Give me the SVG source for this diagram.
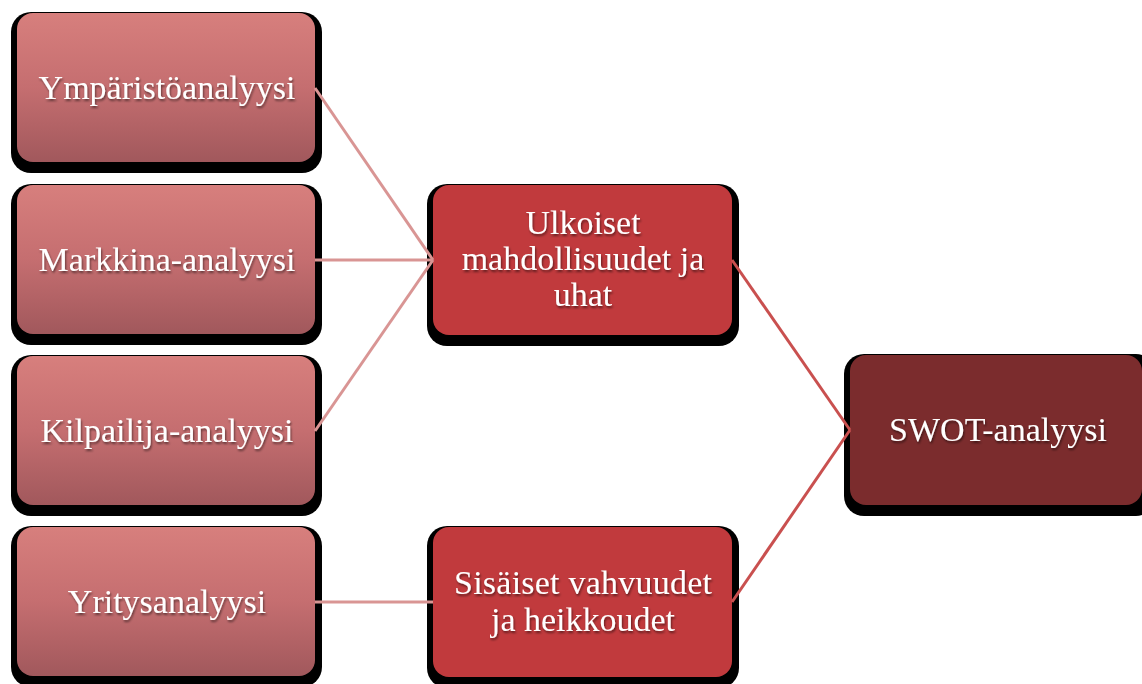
<svg xmlns="http://www.w3.org/2000/svg" width="1142" height="684" viewBox="0 0 1142 684">
<defs>
<linearGradient id="gL" x1="0" y1="0" x2="0" y2="1">
<stop offset="0" stop-color="#d77f7d"/>
<stop offset="0.5" stop-color="#c56e70"/>
<stop offset="1" stop-color="#a1585c"/>
</linearGradient>
<filter id="ts" x="-10%" y="-30%" width="120%" height="160%">
<feDropShadow dx="1" dy="2" stdDeviation="1.2" flood-color="#000" flood-opacity="0.5"/>
</filter>
</defs>
<style>
.sh{fill:#000}
.l{fill:url(#gL)}
.m{fill:#c13a3d}
.s{fill:#7b2c2d}
text{font-family:"Liberation Serif","Times New Roman",serif;font-size:34px;fill:#fff;text-anchor:middle;filter:url(#ts)}
.c1{stroke:#d99594;stroke-width:3;fill:none}
.c2{stroke:#c9504f;stroke-width:3;fill:none}
</style>
<rect width="1142" height="684" fill="#fff"/>
<g id="n1">
<rect class="sh" x="11" y="12" width="311" height="161" rx="20"/>
<rect class="l" x="17" y="13" width="298" height="149" rx="16"/>
<text x="167" y="99">Ympäristöanalyysi</text>
</g>
<g id="n2">
<rect class="sh" x="11" y="184" width="311" height="161" rx="20"/>
<rect class="l" x="17" y="185" width="298" height="149" rx="16"/>
<text x="167" y="271">Markkina-analyysi</text>
</g>
<g id="n3">
<rect class="sh" x="11" y="355" width="311" height="161" rx="20"/>
<rect class="l" x="17" y="356" width="298" height="149" rx="16"/>
<text x="167" y="442">Kilpailija-analyysi</text>
</g>
<g id="n4">
<rect class="sh" x="11" y="526" width="311" height="161" rx="20"/>
<rect class="l" x="17" y="527" width="298" height="149" rx="16"/>
<text x="167" y="613">Yritysanalyysi</text>
</g>
<g id="m1">
<rect class="sh" x="427" y="184" width="312" height="162" rx="20"/>
<rect class="m" x="433" y="185" width="299" height="150" rx="16"/>
<text x="583" y="234">Ulkoiset</text>
<text x="583" y="270">mahdollisuudet ja</text>
<text x="583" y="306">uhat</text>
</g>
<g id="m2">
<rect class="sh" x="427" y="526" width="312" height="162" rx="20"/>
<rect class="m" x="433" y="527" width="299" height="150" rx="16"/>
<text x="583" y="594" textLength="258" lengthAdjust="spacing">Sisäiset vahvuudet</text>
<text x="583" y="631">ja heikkoudet</text>
</g>
<g id="swot">
<rect class="sh" x="844" y="354" width="312" height="162" rx="20"/>
<rect class="s" x="850" y="355" width="292" height="150" rx="16"/>
<text x="998" y="441">SWOT-analyysi</text>
</g>
<g id="connectors">
<line class="c1" x1="315" y1="88" x2="433" y2="260"/>
<line class="c1" x1="315" y1="260" x2="433" y2="260"/>
<line class="c1" x1="315" y1="431" x2="433" y2="260"/>
<line class="c1" x1="315" y1="602" x2="433" y2="602"/>
<line class="c2" x1="732" y1="260" x2="850" y2="430"/>
<line class="c2" x1="732" y1="602" x2="850" y2="430"/>
</g>
</svg>
